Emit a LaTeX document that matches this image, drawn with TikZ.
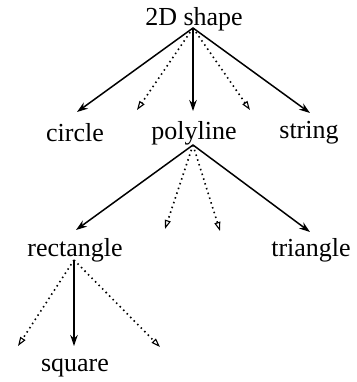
\documentclass[tikz,border=0pt]{standalone}
\usepackage{fontspec}
\setmainfont{Liberation Serif}
\usetikzlibrary{arrows.meta}
\begin{document}
\begin{tikzpicture}[x=1pt,y=-1pt,
  lbl/.style={inner sep=0pt,font=\fontsize{26}{30}\selectfont},
  isa/.style={line width=1.5pt,-{Stealth[length=11pt,width=7.5pt]}},
  maybe/.style={line width=1.6pt,dash pattern=on 1.5pt off 3.5pt,-{Triangle[open,length=9pt,width=6pt,line width=1.1pt]}}]
\useasboundingbox (0,0) rectangle (356,382);
% labels
\node[lbl] (root) at (194,19) {2D shape};
\node[lbl] (circle) at (75,133) {circle};
\node[lbl] (poly) at (194,133) {polyline};
\node[lbl] (string) at (309,133) {string};
\node[lbl] (rect) at (75,250) {rectangle};
\node[lbl] (tri) at (311,250) {triangle};
\node[lbl] (square) at (75,368) {square};
% branch points
\coordinate (a0) at (193,28);
\coordinate (a1) at (193,145);
\coordinate (a2) at (74,260);
% free ends
\coordinate (e1) at (137,110);
\coordinate (e2) at (250,110);
\coordinate (e3) at (165,229);
\coordinate (e4) at (220,231);
\coordinate (e5) at (18,346);
\coordinate (e6) at (160,347);
% ends of solid arrows
\coordinate (c1) at (77,112);
\coordinate (c2) at (193,111);
\coordinate (c3) at (310,113);
\coordinate (c4) at (76,230);
\coordinate (c5) at (310,232);
\coordinate (c6) at (74,346);
% connectors
\draw[isa] (a0) -- (c1);
\draw[maybe] (a0) -- (e1);
\draw[isa] (a0) -- (c2);
\draw[maybe] (a0) -- (e2);
\draw[isa] (a0) -- (c3);
\draw[isa] (a1) -- (c4);
\draw[maybe] (a1) -- (e3);
\draw[maybe] (a1) -- (e4);
\draw[isa] (a1) -- (c5);
\draw[maybe] (a2) -- (e5);
\draw[isa] (a2) -- (c6);
\draw[maybe] (a2) -- (e6);
\end{tikzpicture}
\end{document}
